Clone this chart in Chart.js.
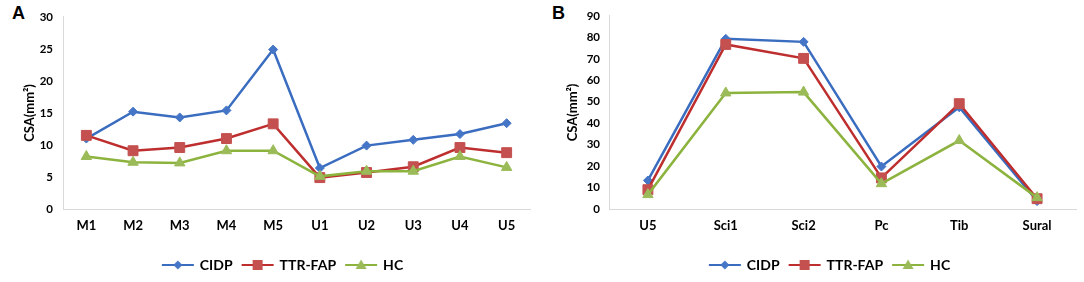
<!DOCTYPE html>
<html>
<head>
<meta charset="utf-8">
<script src="https://cdn.jsdelivr.net/npm/chart.js@4.4.1/dist/chart.umd.min.js"></script>
<style>
  html, body { margin: 0; padding: 0; background: #fff; overflow: hidden; }
  body { width: 1084px; height: 282px; position: relative; }
  .panel { position: absolute; top: 0; height: 282px; }
  #panelA { left: 0; width: 540px; }
  #panelB { left: 540px; width: 544px; }
  .tag { position: absolute; top: 4px; font: bold 18px/18px "Liberation Sans", Arial, sans-serif; color: #000; }
</style>
</head>
<body>
<div class="tag" style="left:12px">A</div>
<div class="tag" style="left:552px">B</div>
<div class="panel" id="panelA"><canvas id="chartA"></canvas></div>
<div class="panel" id="panelB"><canvas id="chartB"></canvas></div>
<script>
"use strict";

// panel A: median CSA per site
const sitesA = ['M1', 'M2', 'M3', 'M4', 'M5', 'U1', 'U2', 'U3', 'U4', 'U5'];
const cidpA = [11.0, 15.2, 14.3, 15.4, 24.9, 6.4, 9.9, 10.8, 11.7, 13.4];
const ttrA  = [11.5, 9.1, 9.6, 11.0, 13.3, 4.9, 5.7, 6.6, 9.6, 8.8];
const hcA   = [8.2, 7.3, 7.2, 9.1, 9.1, 5.1, 5.9, 5.9, 8.2, 6.5];

// panel B
const sitesB = ['U5', 'Sci1', 'Sci2', 'Pc', 'Tib', 'Sural'];
const cidpB = [13.3, 79.3, 77.9, 19.8, 47.4, 3.7];
const ttrB  = [9.0, 76.7, 70.2, 14.5, 49.1, 4.8];
const hcB   = [6.7, 54.1, 54.5, 11.8, 31.9, 5.3];

const groups = ['CIDP', 'TTR-FAP', 'HC'];

const FONT = 'Lato, "Open Sans", sans-serif';
const styles = [
  { line: '#3A6DBF', fill: '#4475C6', shape: 'rectRot', radius: 4.5 },
  { line: '#BE2E2E', fill: '#C4504F', shape: 'rect', radius: 7 },
  { line: '#8DB33F', fill: '#9BBB59', shape: 'triangle', radius: 6 },
];

// small line+marker picture for the legend
function legendIcon(st) {
  const c = document.createElement('canvas');
  c.width = 34; c.height = 14;
  const ctx = c.getContext('2d');
  ctx.strokeStyle = st.line;
  ctx.lineWidth = 2;
  ctx.beginPath(); ctx.moveTo(1, 7); ctx.lineTo(33, 7); ctx.stroke();
  ctx.fillStyle = st.fill;
  ctx.beginPath();
  if (st.shape === 'rectRot') {
    ctx.moveTo(17, 2.5); ctx.lineTo(21.5, 7); ctx.lineTo(17, 11.5); ctx.lineTo(12.5, 7);
  } else if (st.shape === 'rect') {
    ctx.rect(12, 2, 10, 10);
  } else {
    ctx.moveTo(17, 1.5); ctx.lineTo(22.5, 11); ctx.lineTo(11.5, 11);
  }
  ctx.closePath(); ctx.fill();
  return c;
}
const icons = styles.map(legendIcon);

function makeChart(id, labels, series, yMax, yStep, lay) {
  const datasets = series.map((values, i) => ({
    label: groups[i],
    data: values,
    order: 3 - i,
    borderColor: styles[i].line,
    borderWidth: 2.5,
    backgroundColor: styles[i].fill,
    pointStyle: styles[i].shape,
    pointRadius: styles[i].radius,
    pointBackgroundColor: styles[i].fill,
    pointBorderColor: styles[i].fill,
    pointBorderWidth: 1,
    tension: 0,
  }));

  return new Chart(document.getElementById(id), {
    type: 'line',
    data: { labels: labels, datasets: datasets },
    options: {
      responsive: true,
      maintainAspectRatio: false,
      animation: false,
      layout: { padding: { top: 12, left: lay.left, right: lay.right, bottom: 0 } },
      plugins: {
        tooltip: { enabled: false },
        legend: {
          position: 'bottom',
          labels: {
            usePointStyle: true,
            pointStyleWidth: 30,
            padding: 10,
            color: '#000',
            font: { family: FONT, size: 14, weight: 'bold' },
            generateLabels: (chart) => chart.data.datasets.map((ds, i) => ({
              text: ds.label,
              pointStyle: icons[i],
              fillStyle: styles[i].fill,
              strokeStyle: styles[i].line,
              lineWidth: 0,
              hidden: false,
              datasetIndex: i,
              fontColor: '#000',
            })),
          },
        },
      },
      scales: {
        x: {
          offset: true,
          grid: { display: false, drawTicks: false },
          border: { display: true, color: '#D9D9D9', width: 1 },
          ticks: { color: '#000', padding: 9, font: { family: FONT, size: 13, weight: 'bold' } },
          afterFit: (s) => { s.height = 39; },
        },
        y: {
          min: 0,
          max: yMax,
          grid: { display: false, drawTicks: false },
          border: { display: true, color: '#D9D9D9', width: 1 },
          ticks: { stepSize: yStep, color: '#000', padding: lay.tickPad, font: { family: FONT, size: 11.5, weight: 'bold' } },
          title: {
            display: true,
            text: 'CSA(mm²)',
            color: '#000',
            padding: { top: lay.titlePad, bottom: 0 },
            font: { family: FONT, size: 13, weight: 'bold' },
          },
          afterFit: (s) => { s.width = lay.yWidth; },
        },
      },
    },
  });
}

makeChart('chartA', sitesA, [cidpA, ttrA, hcA], 30, 5,
  { left: 36, right: 10, yWidth: 27, tickPad: 10, titlePad: -14 });
makeChart('chartB', sitesB, [cidpB, ttrB, hcB], 90, 10,
  { left: 43, right: 7, yWidth: 26, tickPad: 9, titlePad: -18 });
</script>
</body>
</html>
